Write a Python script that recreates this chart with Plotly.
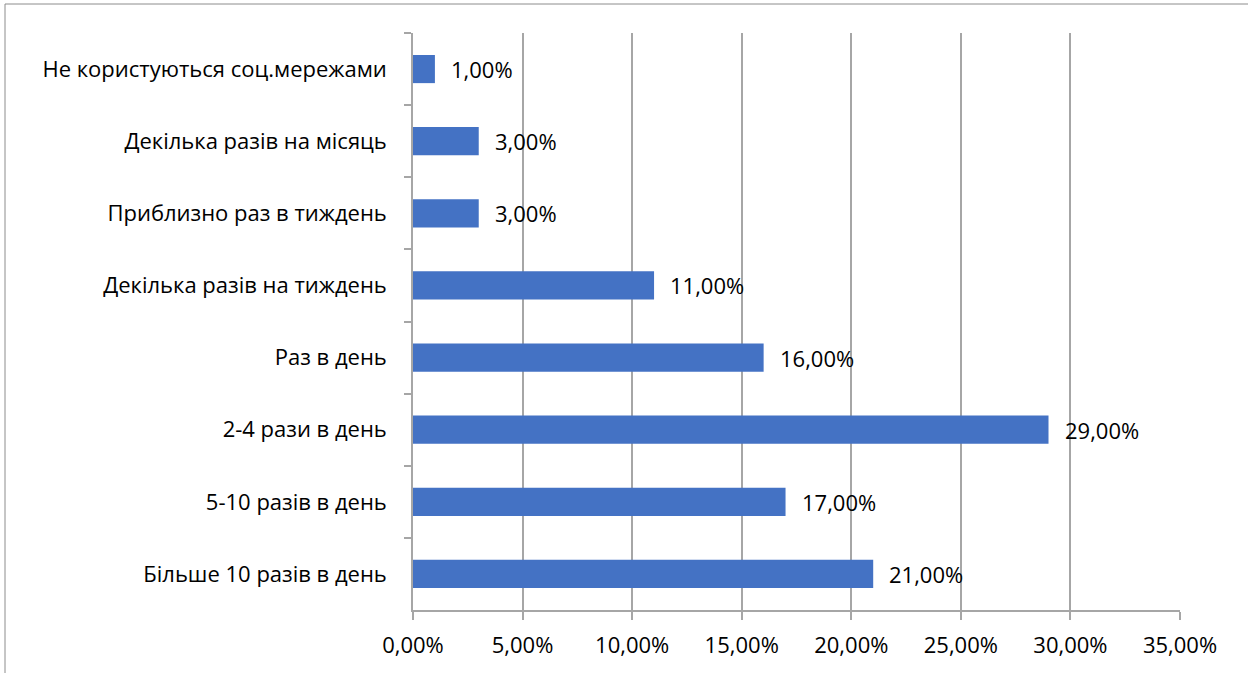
import plotly.graph_objects as go

categories = [
    "Не користуються соц.мережами",
    "Декілька разів на місяць",
    "Приблизно раз в тиждень",
    "Декілька разів на тиждень",
    "Раз в день",
    "2-4 рази в день",
    "5-10 разів в день",
    "Більше 10 разів в день",
]
values = [1, 3, 3, 11, 16, 29, 17, 21]
x_ticks = [0, 5, 10, 15, 20, 25, 30, 35]
x_tick_labels = ["0,00%", "5,00%", "10,00%", "15,00%", "20,00%", "25,00%", "30,00%", "35,00%"]

FONT = "Open Sans"
SIZE = 22
GRID = "#a6a6a6"

fig = go.Figure(
    go.Bar(
        x=values,
        y=categories,
        orientation="h",
        marker=dict(color="#4472c4", line=dict(width=0)),
        hoverinfo="skip",
    )
)

# value labels beside each bar end
for cat, v in zip(categories, values):
    fig.add_annotation(
        x=v, y=cat, text=f"{v:.2f}%".replace(".", ","),
        xanchor="left", yanchor="middle", showarrow=False,
        xshift=14, font=dict(family=FONT, size=SIZE, color="#000000"),
    )

# outer chart frame
L, R, T, B = 413, 1180, 33, 610
w, h = R - L, B - T
fig.add_shape(
    type="rect", xref="paper", yref="paper",
    x0=(5 - L) / w, x1=(1260 - L) / w,
    y0=(B - 690) / h, y1=(B - 4) / h,
    line=dict(color="#8c8c8c", width=1), fillcolor="rgba(0,0,0,0)",
)

fig.update_layout(
    width=1248, height=673,
    margin=dict(l=L, r=1248 - R, t=T, b=673 - B),
    paper_bgcolor="white", plot_bgcolor="white",
    bargap=0.61, showlegend=False,
    font=dict(family=FONT, size=SIZE, color="#000000"),
)
fig.update_xaxes(
    range=[0, 35], tickvals=x_ticks, ticktext=x_tick_labels,
    showgrid=True, gridcolor=GRID, gridwidth=1.5,
    showline=True, linecolor=GRID, linewidth=1.5,
    ticks="outside", ticklen=8, tickcolor=GRID, tickwidth=1.5,
    zeroline=False, ticklabelstandoff=7,
    tickfont=dict(family=FONT, size=SIZE, color="#000000"),
)
fig.update_yaxes(
    autorange="reversed", type="category",
    showgrid=False, showline=True, linecolor=GRID, linewidth=1.5,
    ticks="outside", ticklen=7, tickcolor=GRID, tickwidth=1.5,
    tickson="boundaries", ticklabelstandoff=20,
    tickfont=dict(family=FONT, size=SIZE, color="#000000"),
)

fig.write_html("out.html")
